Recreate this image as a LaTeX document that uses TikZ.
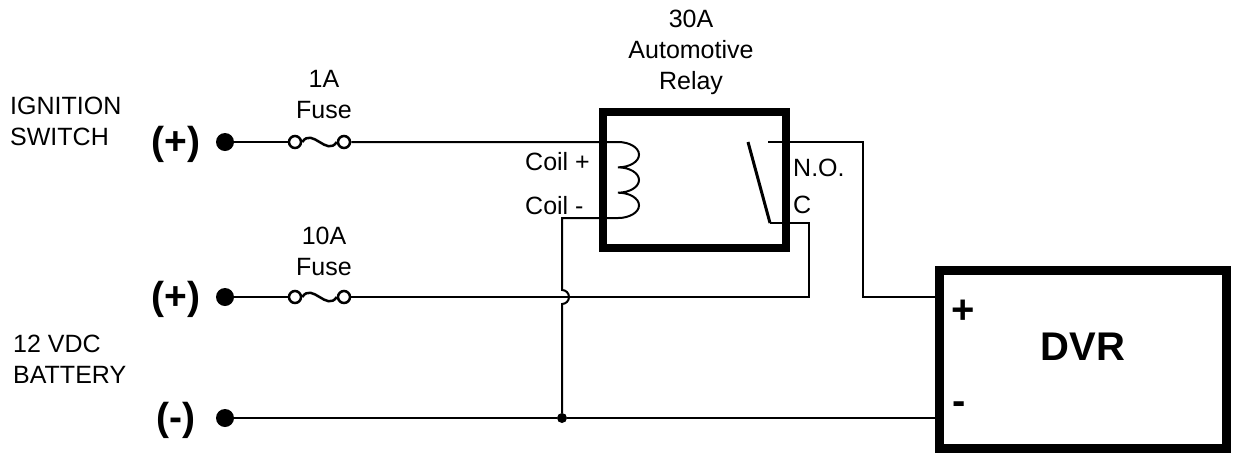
\documentclass[tikz,border=0pt]{standalone}
\usepackage{fontspec}
\setmainfont{Liberation Sans}
\usetikzlibrary{positioning}
\def\fusewave{.. controls +(10,-15) and +(-10,15) ..}
\tikzset{wire/.style={draw, line width=2pt},
	terminal/.style={circle, fill, inner sep=0pt, minimum size=18pt},
	junction/.style={circle, fill, inner sep=0pt, minimum size=10pt},
	fusepin/.style={circle, draw, line width=2.5pt, inner sep=0pt, minimum size=12pt},
	heavybox/.style={draw, rectangle, inner sep=0pt},
	lbl/.style={font=\fontsize{25}{31}\selectfont, align=center, inner sep=0pt},
	leftlbl/.style={lbl, align=left, anchor=west},
	pol/.style={font=\bfseries\fontsize{39}{39}\selectfont, inner sep=0pt},
	dvrpol/.style={font=\bfseries\fontsize{40}{40}\selectfont, inner sep=0pt}}

\begin{document}
\begin{tikzpicture}[x=1pt, y=-1pt]
		\useasboundingbox (0,0) rectangle (1239,456);
		% boxes
		\node[heavybox, line width=8pt, minimum width=183pt, minimum height=136pt] (relay) at (694.5,180) {};
		\node[heavybox, line width=9pt, minimum width=287pt, minimum height=178pt] (dvr) at (1083,359.5) {};
		% terminals and fuses
		\node[terminal] (ign) at (225,142) {};
		\node[terminal] (batp) at (225,297) {};
		\node[terminal] (batn) at (225,418) {};
		\node[fusepin] (fa1) at (295,142) {};
		\node[fusepin] (fa2) at (344,142) {};
		\node[fusepin] (fb1) at (295,297) {};
		\node[fusepin] (fb2) at (344,297) {};
		\node[junction] (gnd) at (562,418) {};
		\coordinate (coilp) at (603,142);
		\coordinate (coilm) at (603,218);
		\coordinate (no) at (768,142);
		\coordinate (com) at (770,223);
		\coordinate (dvrp) at (935,297);
		\coordinate (dvrm) at (935,418);
		
		% ignition line
		\draw[wire] (ign) -- (fa1);
		\draw[line width=2.5pt] (fa1.east) \fusewave (fa2.west);
		\draw[wire] (fa2) -- (coilp) -- (618,142)
			arc[start angle=-90, end angle=90, x radius=21, y radius=12.67]
			arc[start angle=-90, end angle=90, x radius=21, y radius=12.67]
			arc[start angle=-90, end angle=90, x radius=21, y radius=12.67]
			-- (coilm) -- (562,218) -- (562,290)
			arc[start angle=-90, end angle=90, radius=7] -- (gnd);
		
		% battery line
		\draw[wire] (batp) -- (fb1);
		\draw[line width=2.5pt] (fb1.east) \fusewave (fb2.west);
		\draw[wire] (fb2) -- (809,297) -- (809,223) -- (com);
		\draw[line width=3pt] (com) -- (748,142);
		\draw[wire] (no) -- (863,142) -- (863,297) -- (dvrp);
		\draw[wire] (batn) -- (gnd) -- (dvrm);
		
		% labels
		\node[leftlbl] (ignlbl) at (10,121) {IGNITION\\SWITCH};
		\node[leftlbl] (batlbl) at (13,359) {12 VDC\\BATTERY};
		\node[lbl] (fa) at (324,95) {1A\\Fuse};
		\node[lbl] (fb) at (324,251) {10A\\Fuse};
		\node[lbl] (relaylbl) at (691,52) {30A\\Automotive\\Relay};
		\node[lbl, anchor=west] (cplbl) at (525,162) {Coil +};
		\node[lbl, anchor=west] (cmlbl) at (525,206) {Coil -};
		\node[lbl, anchor=west] (nolbl) at (793,168) {N.O.};
		\node[lbl, anchor=west] (comlbl) at (793,205) {C};
		\node[pol] (ignpol) at (176,144) {(+)};
		\node[pol] (batppol) at (176,299) {(+)};
		\node[pol] (batnpol) at (176,420) {(-)};
		\node[font=\bfseries\fontsize{40}{40}\selectfont] (dvrlbl) at (1083,347) {DVR};
		\node[dvrpol] (dvrplus) at (963,312) {+};
		\node[dvrpol] (dvrminus) at (959,408) {-};
		\end{tikzpicture}
\end{document}
